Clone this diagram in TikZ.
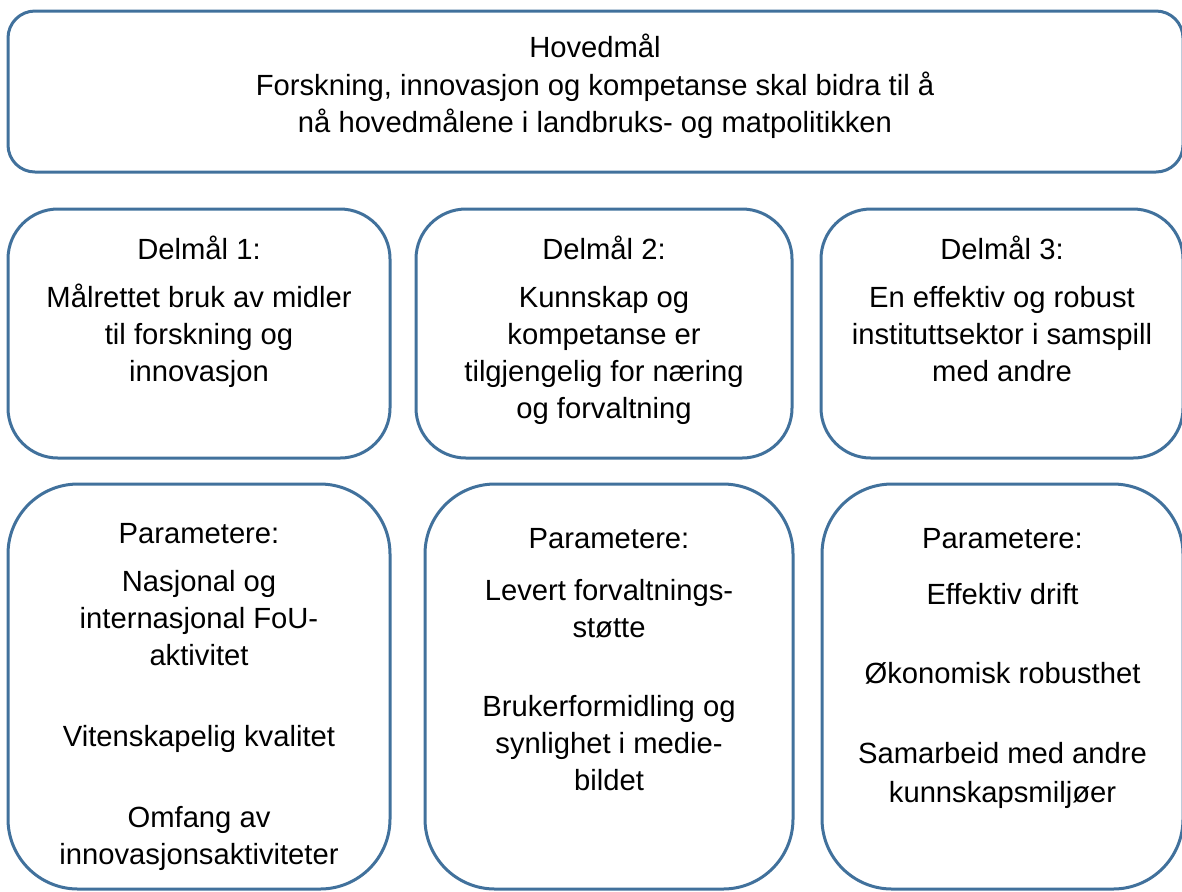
\documentclass[tikz,border=0pt]{standalone}
\usepackage{fontspec}
\setmainfont{Liberation Sans}
\usetikzlibrary{positioning}
\definecolor{boksblaa}{RGB}{65,113,156}

\begin{document}
\begin{tikzpicture}[x=0.5pt,y=-0.5pt,
  boks/.style={draw=boksblaa, line width=1.5pt, rectangle, inner sep=0pt},
  tekst/.style={align=center, font=\fontsize{14.6}{18.5}\selectfont, anchor=north, inner sep=0pt,
    execute at begin node=\rule{0pt}{12pt}}]
  \useasboundingbox (0,0) rectangle (1182,891);
  % Hovedmaal on top
  \node[boks, rounded corners=13.5pt, minimum width=587.5pt, minimum height=80.5pt] (hoved) at (595.5,91.5) {};
  \node[tekst] (hovedtekst) at (595,34) {Hovedmål\\[0.5pt]Forskning, innovasjon og kompetanse skal bidra til å\\[0pt]nå hovedmålene i landbruks- og matpolitikken};
  % Now the three delmaal
  \node[boks, rounded corners=25pt, minimum width=191pt, minimum height=124.5pt] (delmaal1) at (199,333.5) {};
  \node[boks, rounded corners=25pt, minimum width=188pt, minimum height=124.5pt] (delmaal2) at (604,333.5) {};
  \node[boks, rounded corners=25pt, minimum width=181pt, minimum height=124.5pt] (delmaal3) at (1002,333.5) {};
  \node[tekst] (d1tekst) at (199,236) {Delmål 1:\\[5.5pt]Målrettet bruk av midler\\til forskning og\\innovasjon};
  \node[tekst] (d2tekst) at (604,236) {Delmål 2:\\[5.5pt]Kunnskap og\\kompetanse er\\tilgjengelig for næring\\og forvaltning};
  \node[tekst] (d3tekst) at (1002,236) {Delmål 3:\\[5.5pt]En effektiv og robust\\instituttsektor i samspill\\med andre};
  % Parametere for each delmaal
  \node[boks, rounded corners=35pt, minimum width=191pt, minimum height=202.5pt] (param1) at (199,686.5) {};
  \node[boks, rounded corners=35pt, minimum width=184pt, minimum height=202.5pt] (param2) at (609,686.5) {};
  \node[boks, rounded corners=35pt, minimum width=180.5pt, minimum height=202.5pt] (param3) at (1002.5,686.5) {};
  \node[tekst] (p1tekst) at (199,523) {Parametere:\\[5.5pt]Nasjonal og\\internasjonal FoU-\\aktivitet\\[22pt]Vitenskapelig kvalitet\\[22pt]Omfang av\\innovasjonsaktiviteter};
  \node[tekst] (p2tekst) at (609,528) {Parametere:\\[7.5pt]Levert forvaltnings-\\støtte\\[21pt]Brukerformidling og\\synlighet i medie-\\bildet};
  \node[tekst] (p3tekst) at (1002.5,528) {Parametere:\\[9.5pt]Effektiv drift\\[21pt]Økonomisk robusthet\\[21.5pt]Samarbeid med andre\\[1pt]kunnskapsmiljøer};
\end{tikzpicture}
\end{document}
